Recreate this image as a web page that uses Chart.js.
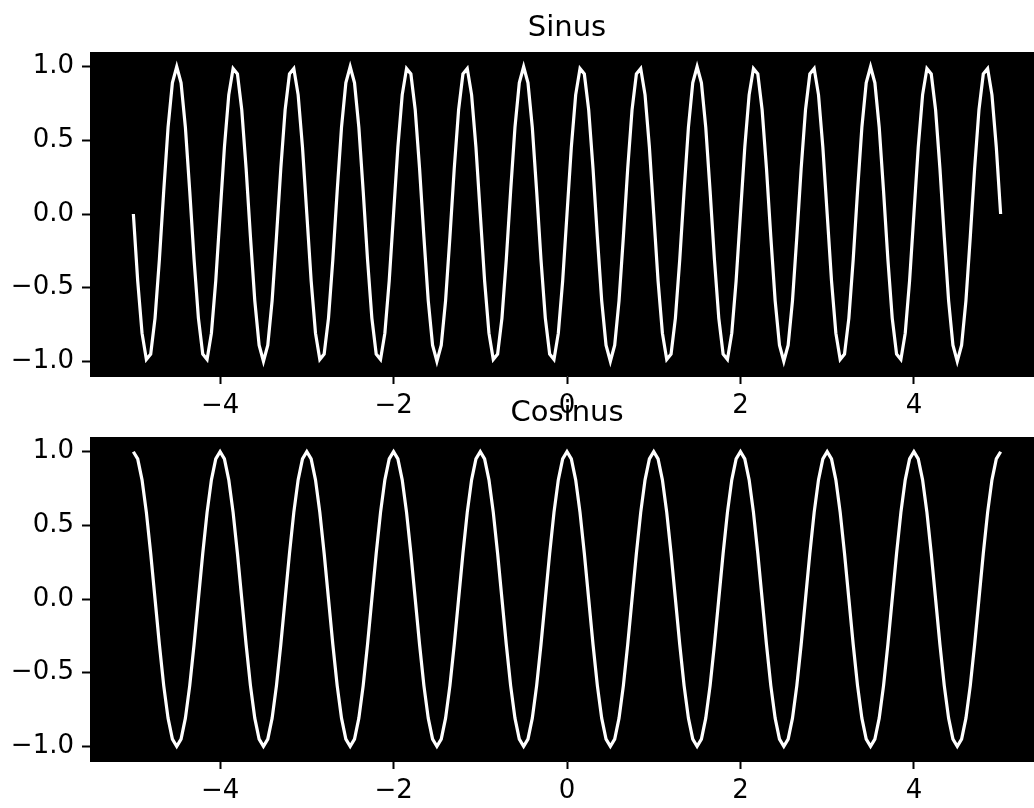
<!DOCTYPE html>
<html lang="en">
<head>
    <meta charset="UTF-8">
    <title>Sinus / Cosinus</title>
    <script src="https://cdn.jsdelivr.net/npm/chart.js"></script>
    <style>
        html, body {
            margin: 0;
            padding: 0;
            background: #fff;
            width: 1034px;
            height: 808px;
            overflow: hidden;
        }
        canvas {
            position: absolute;
            left: 0;
        }
        #sinChart { top: 0; }
        #cosChart { top: 385px; }
    </style>
</head>
<body>
    <canvas id="sinChart" width="1044" height="430"></canvas>
    <canvas id="cosChart" width="1044" height="430"></canvas>

    <script>
        // x samples, -5 .. 5
        const xValues = [
            -5, -4.95, -4.9, -4.85, -4.8, -4.75, -4.7, -4.65, -4.6, -4.55,
            -4.5, -4.45, -4.4, -4.35, -4.3, -4.25, -4.2, -4.15, -4.1, -4.05,
            -4, -3.95, -3.9, -3.85, -3.8, -3.75, -3.7, -3.65, -3.6, -3.55,
            -3.5, -3.45, -3.4, -3.35, -3.3, -3.25, -3.2, -3.15, -3.1, -3.05,
            -3, -2.95, -2.9, -2.85, -2.8, -2.75, -2.7, -2.65, -2.6, -2.55,
            -2.5, -2.45, -2.4, -2.35, -2.3, -2.25, -2.2, -2.15, -2.1, -2.05,
            -2, -1.95, -1.9, -1.85, -1.8, -1.75, -1.7, -1.65, -1.6, -1.55,
            -1.5, -1.45, -1.4, -1.35, -1.3, -1.25, -1.2, -1.15, -1.1, -1.05,
            -1, -0.95, -0.9, -0.85, -0.8, -0.75, -0.7, -0.65, -0.6, -0.55,
            -0.5, -0.45, -0.4, -0.35, -0.3, -0.25, -0.2, -0.15, -0.1, -0.05,
            0, 0.05, 0.1, 0.15, 0.2, 0.25, 0.3, 0.35, 0.4, 0.45,
            0.5, 0.55, 0.6, 0.65, 0.7, 0.75, 0.8, 0.85, 0.9, 0.95,
            1, 1.05, 1.1, 1.15, 1.2, 1.25, 1.3, 1.35, 1.4, 1.45,
            1.5, 1.55, 1.6, 1.65, 1.7, 1.75, 1.8, 1.85, 1.9, 1.95,
            2, 2.05, 2.1, 2.15, 2.2, 2.25, 2.3, 2.35, 2.4, 2.45,
            2.5, 2.55, 2.6, 2.65, 2.7, 2.75, 2.8, 2.85, 2.9, 2.95,
            3, 3.05, 3.1, 3.15, 3.2, 3.25, 3.3, 3.35, 3.4, 3.45,
            3.5, 3.55, 3.6, 3.65, 3.7, 3.75, 3.8, 3.85, 3.9, 3.95,
            4, 4.05, 4.1, 4.15, 4.2, 4.25, 4.3, 4.35, 4.4, 4.45,
            4.5, 4.55, 4.6, 4.65, 4.7, 4.75, 4.8, 4.85, 4.9, 4.95,
            5
        ];

        const sinValues = [
            0, -0.454, -0.809, -0.988, -0.951, -0.707, -0.309, 0.156, 0.588, 0.891,
            1, 0.891, 0.588, 0.156, -0.309, -0.707, -0.951, -0.988, -0.809, -0.454,
            0, 0.454, 0.809, 0.988, 0.951, 0.707, 0.309, -0.156, -0.588, -0.891,
            -1, -0.891, -0.588, -0.156, 0.309, 0.707, 0.951, 0.988, 0.809, 0.454,
            0, -0.454, -0.809, -0.988, -0.951, -0.707, -0.309, 0.156, 0.588, 0.891,
            1, 0.891, 0.588, 0.156, -0.309, -0.707, -0.951, -0.988, -0.809, -0.454,
            0, 0.454, 0.809, 0.988, 0.951, 0.707, 0.309, -0.156, -0.588, -0.891,
            -1, -0.891, -0.588, -0.156, 0.309, 0.707, 0.951, 0.988, 0.809, 0.454,
            0, -0.454, -0.809, -0.988, -0.951, -0.707, -0.309, 0.156, 0.588, 0.891,
            1, 0.891, 0.588, 0.156, -0.309, -0.707, -0.951, -0.988, -0.809, -0.454,
            0, 0.454, 0.809, 0.988, 0.951, 0.707, 0.309, -0.156, -0.588, -0.891,
            -1, -0.891, -0.588, -0.156, 0.309, 0.707, 0.951, 0.988, 0.809, 0.454,
            0, -0.454, -0.809, -0.988, -0.951, -0.707, -0.309, 0.156, 0.588, 0.891,
            1, 0.891, 0.588, 0.156, -0.309, -0.707, -0.951, -0.988, -0.809, -0.454,
            0, 0.454, 0.809, 0.988, 0.951, 0.707, 0.309, -0.156, -0.588, -0.891,
            -1, -0.891, -0.588, -0.156, 0.309, 0.707, 0.951, 0.988, 0.809, 0.454,
            0, -0.454, -0.809, -0.988, -0.951, -0.707, -0.309, 0.156, 0.588, 0.891,
            1, 0.891, 0.588, 0.156, -0.309, -0.707, -0.951, -0.988, -0.809, -0.454,
            0, 0.454, 0.809, 0.988, 0.951, 0.707, 0.309, -0.156, -0.588, -0.891,
            -1, -0.891, -0.588, -0.156, 0.309, 0.707, 0.951, 0.988, 0.809, 0.454,
            0
        ];

        const cosValues = [
            1, 0.951, 0.809, 0.588, 0.309, 0, -0.309, -0.588, -0.809, -0.951,
            -1, -0.951, -0.809, -0.588, -0.309, 0, 0.309, 0.588, 0.809, 0.951,
            1, 0.951, 0.809, 0.588, 0.309, 0, -0.309, -0.588, -0.809, -0.951,
            -1, -0.951, -0.809, -0.588, -0.309, 0, 0.309, 0.588, 0.809, 0.951,
            1, 0.951, 0.809, 0.588, 0.309, 0, -0.309, -0.588, -0.809, -0.951,
            -1, -0.951, -0.809, -0.588, -0.309, 0, 0.309, 0.588, 0.809, 0.951,
            1, 0.951, 0.809, 0.588, 0.309, 0, -0.309, -0.588, -0.809, -0.951,
            -1, -0.951, -0.809, -0.588, -0.309, 0, 0.309, 0.588, 0.809, 0.951,
            1, 0.951, 0.809, 0.588, 0.309, 0, -0.309, -0.588, -0.809, -0.951,
            -1, -0.951, -0.809, -0.588, -0.309, 0, 0.309, 0.588, 0.809, 0.951,
            1, 0.951, 0.809, 0.588, 0.309, 0, -0.309, -0.588, -0.809, -0.951,
            -1, -0.951, -0.809, -0.588, -0.309, 0, 0.309, 0.588, 0.809, 0.951,
            1, 0.951, 0.809, 0.588, 0.309, 0, -0.309, -0.588, -0.809, -0.951,
            -1, -0.951, -0.809, -0.588, -0.309, 0, 0.309, 0.588, 0.809, 0.951,
            1, 0.951, 0.809, 0.588, 0.309, 0, -0.309, -0.588, -0.809, -0.951,
            -1, -0.951, -0.809, -0.588, -0.309, 0, 0.309, 0.588, 0.809, 0.951,
            1, 0.951, 0.809, 0.588, 0.309, 0, -0.309, -0.588, -0.809, -0.951,
            -1, -0.951, -0.809, -0.588, -0.309, 0, 0.309, 0.588, 0.809, 0.951,
            1, 0.951, 0.809, 0.588, 0.309, 0, -0.309, -0.588, -0.809, -0.951,
            -1, -0.951, -0.809, -0.588, -0.309, 0, 0.309, 0.588, 0.809, 0.951,
            1
        ];

        const xTicks = [-4, -2, 0, 2, 4];
        const yTicks = [-1, -0.5, 0, 0.5, 1];

        Chart.defaults.font.family = "'DejaVu Sans', sans-serif";
        Chart.defaults.color = '#000';

        // black axes background
        const blackArea = {
            id: 'blackArea',
            beforeDraw(chart) {
                const a = chart.chartArea;
                const ctx = chart.ctx;
                ctx.save();
                ctx.fillStyle = '#000';
                ctx.fillRect(a.left, a.top, a.right - a.left, a.bottom - a.top);
                ctx.restore();
            }
        };

        function minus(s) {
            return String(s).replace('-', '\u2212');
        }

        function makeChart(id, title, values) {
            return new Chart(document.getElementById(id), {
                type: 'line',
                data: {
                    datasets: [{
                        data: xValues.map((x, i) => ({ x: x, y: values[i] })),
                        borderColor: '#fff',
                        borderWidth: 3.2,
                        pointRadius: 0,
                        tension: 0,
                        fill: false
                    }]
                },
                options: {
                    responsive: false,
                    animation: false,
                    layout: { padding: 0 },
                    plugins: {
                        legend: { display: false },
                        tooltip: { enabled: false },
                        title: {
                            display: true,
                            text: title,
                            color: '#000',
                            fullSize: false,   // centre over the axes, not the canvas
                            font: { size: 29, weight: 'normal', lineHeight: 1.2 },
                            padding: { top: 10.6, bottom: 6.6 }
                        }
                    },
                    scales: {
                        x: {
                            type: 'linear',
                            min: -5.5,
                            max: 5.5,
                            afterBuildTicks: s => { s.ticks = xTicks.map(v => ({ value: v })); },
                            afterFit: s => { s.height = 54; },
                            ticks: {
                                font: { size: 26 },
                                padding: 7,
                                maxRotation: 0,
                                autoSkip: false,
                                callback: v => minus(v)
                            },
                            grid: {
                                drawOnChartArea: false,
                                tickLength: 8,
                                tickColor: '#000',
                                tickWidth: 2
                            },
                            border: { color: '#000' }
                        },
                        y: {
                            min: -1.1,
                            max: 1.1,
                            afterBuildTicks: s => { s.ticks = yTicks.map(v => ({ value: v })); },
                            afterFit: s => { s.width = 90; },
                            ticks: {
                                font: { size: 26 },
                                padding: 8,
                                autoSkip: false,
                                callback: v => minus(v.toFixed(1))
                            },
                            grid: {
                                drawOnChartArea: false,
                                tickLength: 8,
                                tickColor: '#000',
                                tickWidth: 2
                            },
                            border: { color: '#000' }
                        }
                    }
                },
                plugins: [blackArea]
            });
        }

        makeChart('sinChart', 'Sinus', sinValues);
        makeChart('cosChart', 'Cosinus', cosValues);
    </script>
</body>
</html>
